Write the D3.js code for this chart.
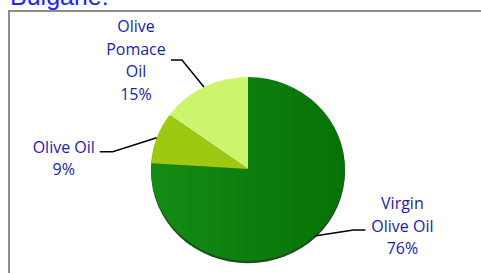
<!DOCTYPE HTML>
<html>
  <head>
    <style>
    	body {
    		margin: 0px;
    		background: #ffffff;
    	}
	</style>
  </head>
  <body>

	<script type="text/javascript" src="https://cdn.jsdelivr.net/npm/d3@7/dist/d3.min.js"></script>

    <script>

		// *** DATA ***
		var categories = ["Virgin Olive Oil", "Olive Oil", "Olive Pomace Oil"];
		var values = [76, 9, 15];
		var labelLines = [["Virgin", "Olive Oil", "76%"], ["Olive Oil", "9%"], ["Olive", "Pomace", "Oil", "15%"]];
		var colors = ["#0b7d0b", "#9fc911", "#ccf46c"];
		var title = "Bulgarie:";

		// label layout: elbow offset from the slice edge, line end, first baseline of label
		var layout = [
			{ 'elbow': [39, -6], 'end': [51, -6], 'label': [88, -27] },
			{ 'elbow': [-44, 14], 'end': [-57, 14], 'label': [-93, 15] },
			{ 'elbow': [-22, -27], 'end': [-33, -27], 'label': [-68, -55] }
		];

		var W = 481, H = 273;
		var cx = 248, cy = 169, rx = 97, ry = 92;

		var svg = d3.select("body").append("svg")
			.attr("width", W)
			.attr("height", H)
			.style("font-family", "'Open Sans', sans-serif");

		var defs = svg.append("defs");
		var grad = defs.append("linearGradient")
			.attr("id", "gDark")
			.attr("x1", "0%").attr("y1", "0%")
			.attr("x2", "100%").attr("y2", "0%");
		grad.append("stop").attr("offset", "0%").attr("stop-color", "#158b15");
		grad.append("stop").attr("offset", "100%").attr("stop-color", "#057205");

		// title (mostly cut off at top)
		svg.append("text")
			.attr("x", 10)
			.attr("y", 5)
			.style("font-family", "'Liberation Sans', Arial, sans-serif")
			.style("font-size", "25px")
			.style("fill", "#2424ff")
			.text(title);

		// frame
		svg.append("rect")
			.attr("x", 9)
			.attr("y", 11)
			.attr("width", 500)
			.attr("height", 300)
			.style("fill", "none")
			.style("stroke", "#8c8c8c")
			.style("stroke-width", 2);

		// pie
		var pie = d3.pie().sort(null).value(function(d){ return d; });
		var arcs = pie(values);
		var arc = d3.arc().innerRadius(0).outerRadius(rx);

		var g = svg.append("g")
			.attr("transform", "translate(" + cx + "," + cy + ") scale(1," + (ry / rx) + ")");

		// shadow edge
		g.append("ellipse")
			.attr("cx", 0).attr("cy", 2.5)
			.attr("rx", rx).attr("ry", rx)
			.style("fill", "#1d4d1d");

		g.selectAll("path.slice").data(arcs)
			.enter()
			.append("path")
				.attr("class", "slice")
				.attr("d", arc)
				.style("fill", function(d, i){ return i === 0 ? "url(#gDark)" : colors[i]; });

		// leader lines and labels
		arcs.forEach(function(d, i){
			var a = (d.startAngle + d.endAngle) / 2;
			var px = cx + rx * Math.sin(a);
			var py = cy - ry * Math.cos(a);
			var L = layout[i];
			svg.append("polyline")
				.attr("points", [
					[px, py],
					[px + L.elbow[0], py + L.elbow[1]],
					[px + L.end[0], py + L.end[1]]
				].map(function(p){ return p.join(","); }).join(" "))
				.style("fill", "none")
				.style("stroke", "#000")
				.style("stroke-width", 1.5);

			var t = svg.append("text")
				.attr("x", px + L.label[0])
				.attr("y", py + L.label[1])
				.style("text-anchor", "middle")
				.style("font-size", "16px")
				.style("fill", "#1c1ca6");
			labelLines[i].forEach(function(line, k){
				t.append("tspan")
					.attr("x", px + L.label[0])
					.attr("dy", k === 0 ? 0 : 22.5)
					.text(line);
			});
		});

	</script>

  </body>
</html>
